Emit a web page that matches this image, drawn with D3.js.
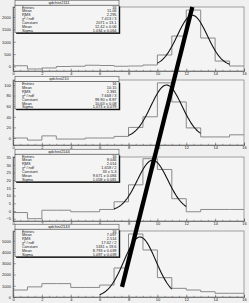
<!DOCTYPE html>
<html>
<head>
<meta charset="utf-8">
<script src="https://cdn.jsdelivr.net/npm/d3@7/dist/d3.min.js"></script>
<style>
  html, body { margin: 0; padding: 0; background: #f0f0f0; }
  svg { display: block; }
  text { font-family: "Liberation Sans", Arial, sans-serif; fill: #1a1a1a; }
</style>
</head>
<body>
<div id="chart"></div>
<script>

// histogram names, one per pad
var histNames = ["qdchist2111", "qdchist210", "qdchist2144", "qdchist2143"];

// bin edges 0..16, width 1
var binEdges = d3.range(0, 17);

// bin contents
var counts2111 = [30, -100, -60, 0, 10, 50, 40, 10, 20, 60, 465, 1230, 2280, 1150, 220, 20];
var counts210  = [0, -4, 4, -2, -2, 0, 0, 3, 20, 40, 104, 68, 19, 2, 2, 6];
var counts2144 = [-1, -5, 0.5, 0.5, -0.5, -0.5, 1, 6, 17, 34, 27, 8, -0.5, 1, 1, 1];
var counts2143 = [620, 900, 1190, 1190, 850, 850, 1060, 2580, 5600, 4180, 1720, 770, 620, 470, 330, 330];

// gaussian fits: constant, mean, sigma, fit range
var fitConstant = [2071, 99.9, 33, 5331];
var fitMean     = [12.42, 10.63, 9.671, 8.793];
var fitSigma    = [1.034, 1.073, 1.058, 1.097];
var fitRange    = [[10, 15], [8, 13], [7, 12], [6, 11]];

// stat box rows
var statLabels = ["Entries", "Mean", "RMS", "\u03c7\u00b2 / ndf", "Constant", "Mean", "Sigma"];
var stats2111 = ["16", "11.06", "2.295", "7.413 / 3", "2071 \u00b1 13.1", "12.42 \u00b1 0.06", "1.034 \u00b1 0.064"];
var stats210  = ["16", "10.15", "2.381", "7.668 / 3", "99.90 \u00b1 8.87", "10.63 \u00b1 0.08", "1.073 \u00b1 0.079"];
var stats2144 = ["16", "9.046", "2.014", "1.658 / 2", "33 \u00b1 5.3", "9.671 \u00b1 0.084", "1.058 \u00b1 0.081"];
var stats2143 = ["16", "7.097", "2.514", "17.62 / 2", "5331 \u00b1 19.6", "8.793 \u00b1 0.039", "1.097 \u00b1 0.039"];

// tick labels
var xTicks = [0, 2, 4, 6, 8, 10, 12, 14, 16];
var yTicks2111 = [0, 500, 1000, 1500, 2000];
var yTicks210  = [0, 20, 40, 60, 80, 100];
var yTicks2144 = [-5, 0, 5, 10, 15, 20, 25, 30, 35];
var yTicks2143 = [0, 1000, 2000, 3000, 4000, 5000];

// hand drawn trend line over the pads (pad index, x, y in that pad's units)
var trendStart = [0, 12.42, 2400];
var trendEnd   = [3, 7.55, 900];

var counts = [counts2111, counts210, counts2144, counts2143];
var stats = [stats2111, stats210, stats2144, stats2143];
var yTicks = [yTicks2111, yTicks210, yTicks2144, yTicks2143];
var yMinorStep = [100, 4, 1, 200];

// pad layout
var pads = [
  { top: 7,   bottom: 71,  yMin: -182, yMax: 2404, title: 2.7 },
  { top: 80,  bottom: 145, yMin: -13.2, yMax: 109.4, title: 79 },
  { top: 157, bottom: 221, yMin: -6.5, yMax: 35.1, title: 151.7 },
  { top: 231, bottom: 297, yMin: 0,    yMax: 5867, title: 226.7 }
];

var width = 249, height = 303;
var frameLeft = 13, frameRight = 244;

var svg = d3.select("#chart").append("svg")
  .attr("width", width)
  .attr("height", height);

var x = d3.scaleLinear().domain([0, 16]).range([frameLeft, frameRight]);

var yScales = [];

pads.forEach(function(p, i){
  var y = d3.scaleLinear().domain([p.yMin, p.yMax]).range([p.bottom, p.top]);
  yScales.push(y);
  var g = svg.append("g").attr("class", "pad");

  // frame
  g.append("rect")
    .attr("x", frameLeft)
    .attr("y", p.top)
    .attr("width", frameRight - frameLeft)
    .attr("height", p.bottom - p.top)
    .style("fill", "#f4f4f4")
    .style("stroke", "#8c8c8c")
    .style("stroke-width", 0.8);

  // histogram outline
  var pts = counts[i].map(function(v, k){ return [binEdges[k], v]; });
  pts.push([binEdges[16], counts[i][15]]);
  var step = d3.line()
    .x(function(d){ return x(d[0]); })
    .y(function(d){ return y(d[1]); })
    .curve(d3.curveStepAfter);
  g.append("path")
    .attr("d", step(pts))
    .style("fill", "none")
    .style("stroke", "#8a8a8a")
    .style("stroke-width", 1);

  // gaussian fit
  var fx = d3.range(fitRange[i][0], fitRange[i][1] + 0.001, 0.05);
  var gauss = function(t){
    var z = (t - fitMean[i]) / fitSigma[i];
    return fitConstant[i] * Math.exp(-0.5 * z * z);
  };
  var curve = d3.line()
    .x(function(t){ return x(t); })
    .y(function(t){ return y(gauss(t)); });
  g.append("path")
    .attr("d", curve(fx))
    .style("fill", "none")
    .style("stroke", "#111")
    .style("stroke-width", 1.1);

  // x axis
  var xa = g.append("g")
    .attr("transform", "translate(0," + p.bottom + ")")
    .call(d3.axisBottom(x).tickValues(xTicks).tickSize(-2.4).tickPadding(1.2));
  g.append("g")
    .attr("transform", "translate(0," + p.bottom + ")")
    .call(d3.axisBottom(x).tickValues(d3.range(0, 16.01, 0.5)).tickSize(-1.2).tickFormat(""));

  // y axis
  var ya = g.append("g")
    .attr("transform", "translate(" + frameLeft + ",0)")
    .call(d3.axisLeft(y).tickValues(yTicks[i]).tickSize(-3).tickPadding(2).tickFormat(d3.format("d")));
  var minor = d3.range(Math.ceil(p.yMin / yMinorStep[i]) * yMinorStep[i], p.yMax, yMinorStep[i]);
  g.append("g")
    .attr("transform", "translate(" + frameLeft + ",0)")
    .call(d3.axisLeft(y).tickValues(minor).tickSize(-1.5).tickFormat(""));

  g.selectAll(".domain").style("stroke", "#666").style("stroke-width", 0.6);
  g.selectAll(".tick line").style("stroke", "#555").style("stroke-width", 0.5);
  xa.selectAll("text").style("font-size", "4px").style("fill", "#222");
  ya.selectAll("text").style("font-size", "4px").style("fill", "#222");

  // title box
  var bx = 15, bw = 104;
  var c = p.title;
  g.append("rect")
    .attr("x", bx).attr("y", c - 2.5)
    .attr("width", bw).attr("height", 5)
    .style("fill", "#f4f4f4").style("stroke", "#333").style("stroke-width", 0.5);
  g.append("text")
    .attr("x", bx + bw / 2 - 8).attr("y", c + 1.4)
    .attr("text-anchor", "middle")
    .style("font-size", "4px")
    .text(histNames[i]);

  // stat box with shadow
  var sTop = c + 2.5, sH = 27.5;
  g.append("rect")
    .attr("x", bx + 1.2).attr("y", sTop + 1.2)
    .attr("width", bw).attr("height", sH)
    .style("fill", "#111");
  g.append("rect")
    .attr("x", bx).attr("y", sTop)
    .attr("width", bw).attr("height", sH)
    .style("fill", "#f4f4f4").style("stroke", "#222").style("stroke-width", 0.5);

  var rowH = sH / statLabels.length;
  statLabels.forEach(function(lab, r){
    var ty = sTop + rowH * (r + 0.5) + 1.4;
    g.append("text")
      .attr("x", bx + 7).attr("y", ty)
      .style("font-size", "3.9px")
      .text(lab);
    g.append("text")
      .attr("x", bx + bw - 2.5).attr("y", ty)
      .attr("text-anchor", "end")
      .style("font-size", "3.9px")
      .text(stats[i][r]);
  });
});

// trend line drawn across the pads
svg.append("line")
  .attr("x1", x(trendStart[1]))
  .attr("y1", yScales[trendStart[0]](trendStart[2]))
  .attr("x2", x(trendEnd[1]))
  .attr("y2", yScales[trendEnd[0]](trendEnd[2]))
  .style("stroke", "#000")
  .style("stroke-width", 4.3);

</script>
</body>
</html>
